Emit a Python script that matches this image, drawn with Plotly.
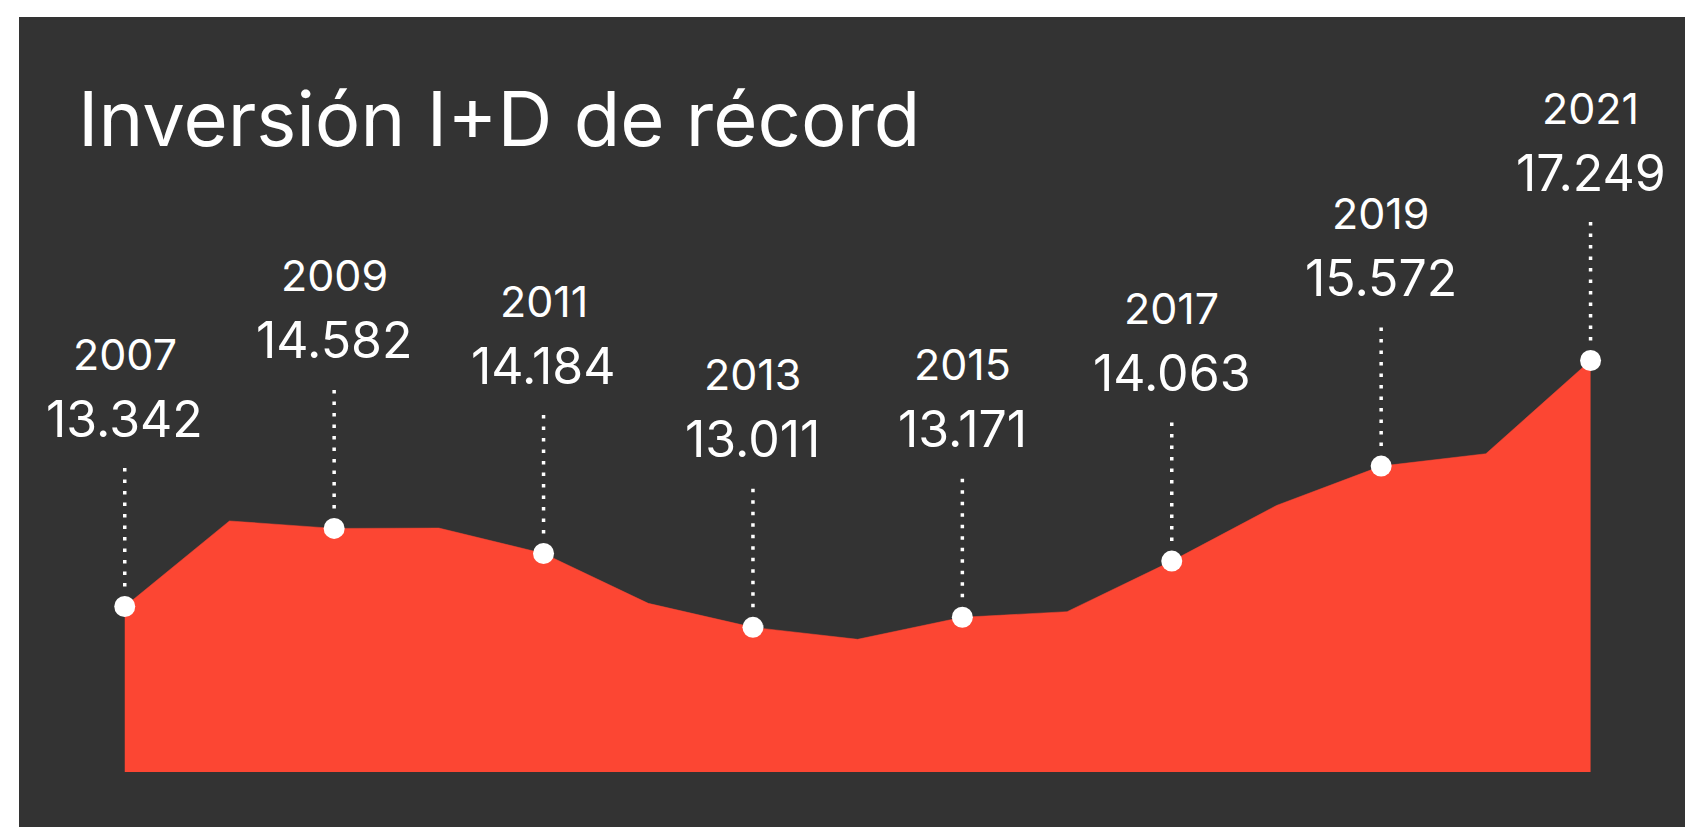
import plotly.graph_objects as go

# ---- data ----
years = list(range(2007, 2022))
values = [13.342, 14.701, 14.582, 14.588, 14.184, 13.392, 13.011, 12.821,
          13.171, 13.260, 14.063, 14.946, 15.572, 15.768, 17.249]
label_years = [2007, 2009, 2011, 2013, 2015, 2017, 2019, 2021]
label_values = [13.342, 14.582, 14.184, 13.011, 13.171, 14.063, 15.572, 17.249]
title_text = "Inversión I+D de récord"

RED = "#FC4633"
DARK = "#333333"
FONT = "Inter"

fig = go.Figure()

# area
fig.add_trace(go.Scatter(
    x=years, y=values, mode="lines", fill="tozeroy",
    fillcolor=RED, line=dict(color=RED, width=0.5),
    hoverinfo="skip"))

# markers
fig.add_trace(go.Scatter(
    x=label_years, y=label_values, mode="markers",
    marker=dict(color="white", size=21, line=dict(width=0)),
    hoverinfo="skip"))

shapes = []
annotations = []
for yr, v in zip(label_years, label_values):
    shapes.append(dict(
        type="line", xref="x", yref="y", x0=yr, x1=yr,
        ysizemode="pixel", yanchor=v, y0=20, y1=141,
        line=dict(color="white", width=3.5, dash="3.5px,8px")))
    annotations.append(dict(
        x=yr, y=v, xref="x", yref="y", text=str(yr), showarrow=False,
        xanchor="center", yanchor="middle", yshift=253,
        font=dict(family=FONT, size=43, color="white")))
    annotations.append(dict(
        x=yr, y=v, xref="x", yref="y", text=f"{v:.3f}", showarrow=False,
        xanchor="center", yanchor="middle", yshift=188,
        font=dict(family=FONT, size=50, color="white")))

# bottom dark strip below plot area
shapes.append(dict(type="rect", xref="paper", yref="paper",
                   x0=0, x1=1, y0=-0.2, y1=0,
                   fillcolor=DARK, line=dict(width=0), layer="below"))

annotations.append(dict(
    x=0.034, y=0.866, xref="paper", yref="paper", text=title_text,
    showarrow=False, xanchor="left", yanchor="middle",
    font=dict(family=FONT, size=76, color="white")))

fig.update_layout(
    width=1685, height=827,
    margin=dict(l=19, r=0, t=17, b=55),
    paper_bgcolor="white", plot_bgcolor=DARK,
    showlegend=False,
    hovermode=False,
    xaxis=dict(range=[2005.990, 2021.902], visible=False, fixedrange=True),
    yaxis=dict(range=[10.714, 22.704], visible=False, fixedrange=True),
    shapes=shapes, annotations=annotations,
    font=dict(family=FONT, color="white"),
)

fig.write_html(
    "out.html",
    config={"displayModeBar": False},
    post_script="document.body.style.margin='0';document.body.style.overflow='hidden';",
)
